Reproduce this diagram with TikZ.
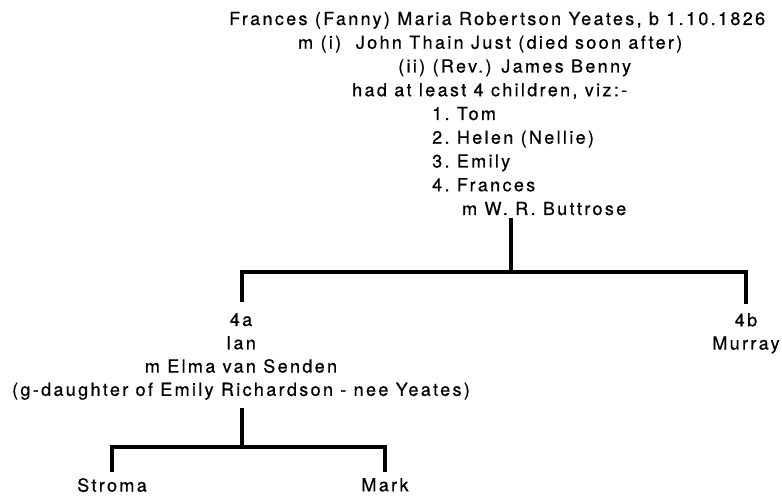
\documentclass[tikz,border=0pt]{standalone}
\usepackage{fontspec}
\setmainfont{TeX Gyre Heros}[LetterSpace=13,FakeBold=0.6]
\usepackage{tikz}

\begin{document}
\begin{tikzpicture}[x=1pt,y=-1pt,font=\fontsize{18}{23.3}\selectfont,
  line/.style={anchor=base west,inner sep=0pt},
  kin/.style={align=center,anchor=north,inner sep=0pt},
  tree/.style={line width=3.4pt}]
\useasboundingbox (0,0) rectangle (782,497);

\node[line] (fanny) at (229,25) {Frances (Fanny) Maria Robertson Yeates, b 1.10.1826};
\node[line] (just) at (298,48.75) {m (i)\ \ John Thain Just (died soon after)};
\node[line] (benny) at (398,72.5) {(ii)\ (Rev.) James Benny};
\node[line] (viz) at (352,96.25) {had at least 4 children, viz:-};
\node[line] (tom) at (432,120) {1.\ Tom};
\node[line] (helen) at (432,143.75) {2.\ Helen (Nellie)};
\node[line] (emily) at (432,167.5) {3.\ Emily};
\node[line] (frances) at (432,191.25) {4.\ Frances};
\node[line] (buttrose) at (462,215) {m W. R. Buttrose};

\node[kin] (ian) at (241,313) {4a\\Ian\\m Elma van Senden\\(g-daughter of Emily Richardson - nee Yeates)};
\node[kin] (murray) at (746,313) {4b\\Murray};
\node[kin] (stroma) at (112,478) {Stroma};
\node[kin] (mark) at (385,478) {Mark};

\coordinate (j1) at (511,272);
\coordinate (j2) at (242,447);
\draw[tree] ([yshift=-3pt]buttrose.south -| j1) -- (j1);
\draw[tree] ([yshift=11pt]ian.north -| j2) |- (j1) -| ([yshift=9pt]murray.north);
\draw[tree] ([yshift=-8pt]ian.south -| j2) -- (j2);
\draw[tree] ([yshift=6pt]stroma.north) |- (j2) -| ([yshift=6pt]mark.north);

\end{tikzpicture}
\end{document}
